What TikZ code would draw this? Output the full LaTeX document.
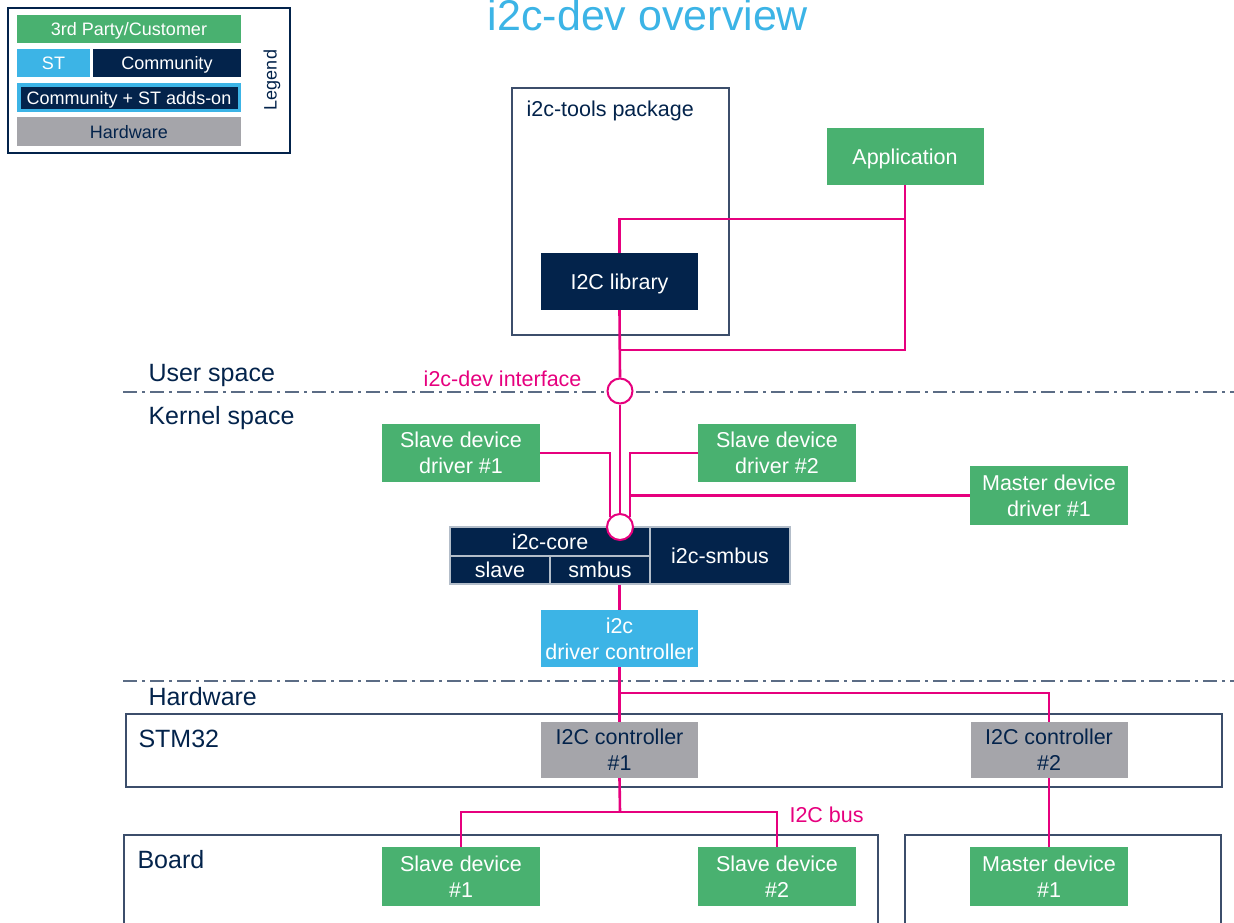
\documentclass[tikz,border=0pt]{standalone}
\usepackage{fontspec}
\setmainfont{Liberation Sans}
\definecolor{stnavy}{HTML}{03234B}
\definecolor{stblue}{HTML}{3CB4E6}
\definecolor{stgreen}{HTML}{49B170}
\definecolor{stgray}{HTML}{A5A5AA}
\definecolor{stpink}{HTML}{E6007E}
\definecolor{stframe}{HTML}{3C4E6B}
\definecolor{stdash}{HTML}{5B6C85}
\begin{document}
\begin{tikzpicture}[x=1pt,y=-1pt,
  box/.style={minimum width=157pt, minimum height=57pt, inner sep=0pt, text depth=0pt, align=center, font=\fontsize{21.5}{26}\selectfont},
  custbox/.style={box, fill=stgreen, text=white},
  combox/.style={box, fill=stnavy, text=white},
  stbox/.style={box, fill=stblue, text=white},
  hwbox/.style={box, fill=stgray, text=stnavy},
  cell/.style={fill=stnavy, draw=white!70!stnavy, line width=1.2pt, text=white, inner sep=0pt, text depth=0pt, font=\fontsize{21.5}{26}\selectfont},
  legitem/.style={minimum width=224pt, minimum height=28pt, inner sep=0pt, text depth=0pt, font=\fontsize{18}{22}\selectfont},
  frame/.style={draw=stframe, line width=1.6pt},
  bus/.style={draw=stpink, line width=2.6pt},
  port/.style={circle, draw=stpink, line width=2pt, fill=white, minimum size=25pt, inner sep=0pt},
  space/.style={draw=stdash, line width=1.8pt, dash pattern=on 14pt off 5pt on 3pt off 5pt},
  layer/.style={text=stnavy, anchor=base west, font=\fontsize{25}{30}\selectfont},
  plain/.style={text=stnavy, anchor=base west, font=\fontsize{21.5}{26}\selectfont},
  buslabel/.style={text=stpink, font=\fontsize{21.5}{26}\selectfont}]
\useasboundingbox (0,0) rectangle (1234,922);

% title
\node[text=stblue, anchor=base, font=\fontsize{43}{50}\selectfont] (title) at (648,30) {i2c-dev overview};

% legend
\draw[draw=stnavy, line width=2pt] (8,8) rectangle (290,153);
\node[legitem, fill=stgreen, text=white] (lcust) at (129,29) {3rd Party/Customer};
\node[legitem, fill=stblue, text=white, minimum width=73pt] (lst) at (53.5,63) {ST};
\node[legitem, fill=stnavy, text=white, minimum width=148pt] (lcom) at (167,63) {Community};
\node[legitem, fill=stnavy, draw=stblue, line width=3.5pt, text=white, minimum width=220.5pt, minimum height=25.5pt] (ladd) at (129,97.5) {Community + ST adds-on};
\node[legitem, fill=stgray, text=stnavy, minimum height=29pt] (lhw) at (129,131.5) {Hardware};
\node[rotate=90, text=stnavy, font=\fontsize{18}{22}\selectfont] (legend) at (272,80) {Legend};

% user space
\draw[frame] (512,88) rectangle (729,335);
\node[plain] (tools) at (523,116) {i2c-tools package};
\node[combox] (lib) at (619.5,281.5) {I2C library};
\node[custbox] (app) at (905,156.5) {Application};

% space separators
\draw[space] (123,392) -- (1234,392);
\draw[space] (123,681) -- (1234,681);
\node[layer] (user) at (145,381) {User space};
\node[layer] (kernel) at (145,424) {Kernel space};
\node[layer] (hw) at (145,705) {Hardware};

\node[port] (ifc) at (620,391) {};
\node[buslabel, anchor=base east] (ifclabel) at (585,386) {i2c-dev interface};

% kernel space
\node[custbox, minimum width=158pt, minimum height=58pt] (sdrv1) at (461,453) {Slave device\\driver \#1};
\node[custbox, minimum width=158pt, minimum height=58pt] (sdrv2) at (777,453) {Slave device\\driver \#2};
\node[custbox, minimum width=158pt, minimum height=59pt] (mdrv) at (1049,495.5) {Master device\\driver \#1};

\node[cell, minimum width=200pt, minimum height=29pt] (icore) at (550,541.5) {i2c-core};
\node[cell, minimum width=100pt, minimum height=28pt] (islave) at (500,570) {slave};
\node[cell, minimum width=100pt, minimum height=28pt] (ismb) at (600,570) {smbus};
\node[cell, minimum width=140pt, minimum height=57pt] (ismbus) at (720,555.5) {i2c-smbus};
\node[port, minimum size=26pt] (cport) at (620,527) {};

\node[stbox] (drvctl) at (619.5,638.5) {i2c\\driver controller};

% hardware
\draw[frame] (126,714) rectangle (1222,787);
\node[layer] (stm) at (135,747) {STM32};
\node[hwbox, minimum height=56pt] (ctl1) at (619.5,750) {I2C controller\\\#1};
\node[hwbox, minimum height=56pt] (ctl2) at (1049,750) {I2C controller\\\#2};

\draw[frame] (124,940) |- (878,835) -- (878,940);
\draw[frame] (905,940) |- (1221,835) -- (1221,940);
\node[layer] (board) at (134,868) {Board};
\node[custbox, minimum width=158pt, minimum height=59pt] (sdev1) at (461,876.5) {Slave device\\\#1};
\node[custbox, minimum width=158pt, minimum height=59pt] (sdev2) at (777,876.5) {Slave device\\\#2};
\node[custbox, minimum width=158pt, minimum height=59pt] (mdev) at (1049,876.5) {Master device\\\#1};

% connections
\coordinate (appsplit) at (905,219);
\coordinate (libjoin) at (620,350);
\coordinate (hwsplit) at (620,693);
\coordinate (busjoin) at (620,812);

\draw[bus] (app.south) |- (libjoin);
\draw[bus] (appsplit) -| (lib.north);
\draw[bus] (lib.south) -- (ifc.north);
\draw[bus] (ifc.south) -- (cport.north);
\draw[bus] (sdrv1.east) -| (cport.135);
\draw[bus] (sdrv2.west) -| (cport.45);
\draw[bus] (mdrv.west) -| (cport.45);
\draw[bus] (ismb.south -| drvctl.north) -- (drvctl.north);
\draw[bus] (drvctl.south) -- (ctl1.north);
\draw[bus] (hwsplit) -| (ctl2.north);
\draw[bus] (ctl1.south) -- (busjoin);
\draw[bus] (sdev1.north) |- (busjoin) -| (sdev2.north);
\draw[bus] (ctl2.south) -- (mdev.north);
\node[buslabel, anchor=base west] (buslbl) at (786,822) {I2C bus};
\end{tikzpicture}
\end{document}
